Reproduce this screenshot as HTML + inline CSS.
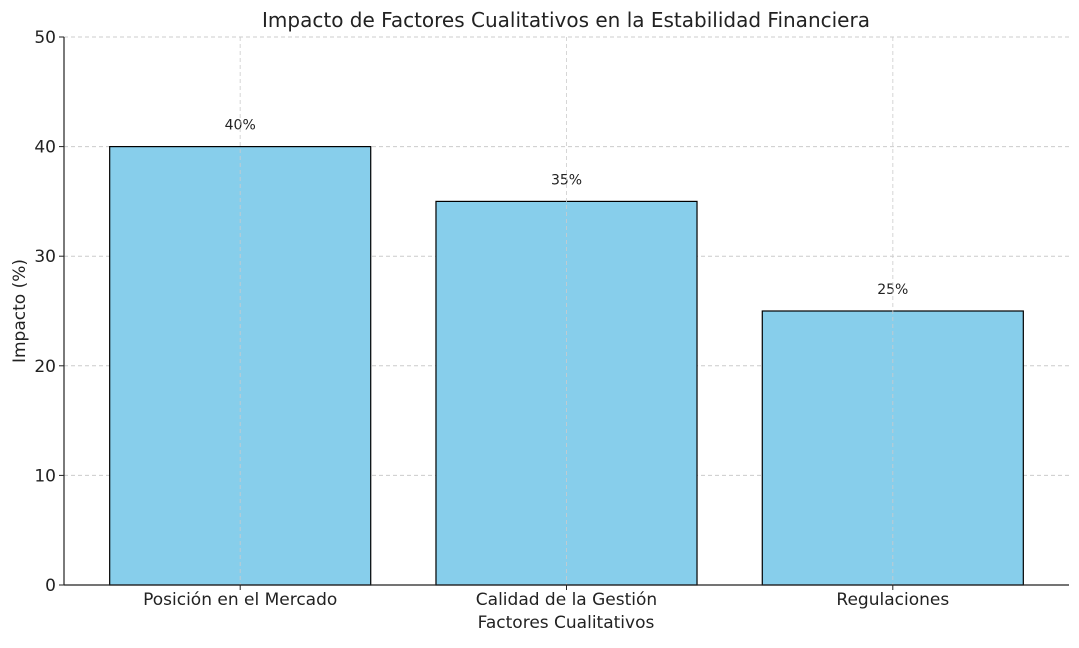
<!DOCTYPE html>
<html><head><meta charset="utf-8">
<style>
body{margin:0;background:#fff;font-family:"Liberation Sans","DejaVu Sans",sans-serif;}
svg text{font-family:"DejaVu Sans","Liberation Sans",sans-serif;fill:#222;}
</style></head>
<body>
<svg id="chart" width="1079" height="643" xmlns="http://www.w3.org/2000/svg">
<text x="566" y="27" text-anchor="middle" font-size="20">Impacto de Factores Cualitativos en la Estabilidad Financiera</text>
<g id="grid"></g>
<g id="bars"></g>
<g id="axes"></g>
<text x="566" y="628" text-anchor="middle" font-size="17">Factores Cualitativos</text>
<text transform="translate(25,311) rotate(-90)" text-anchor="middle" font-size="17">Impacto (%)</text>
</svg>
<script>
const categories = ["Posición en el Mercado", "Calidad de la Gestión", "Regulaciones"];
const values = [40, 35, 25];
const valueLabels = ["40%", "35%", "25%"];
const yTicks = [0, 10, 20, 30, 40, 50];

const NS = "http://www.w3.org/2000/svg";
const L = 64, R = 1069, T = 37, B = 585;
const yMin = 0, yMax = 50, xMin = -0.54, xMax = categories.length - 1 + 0.54;
const y = v => B - (v - yMin) / (yMax - yMin) * (B - T);
const x = i => L + (i - xMin) / (xMax - xMin) * (R - L);
const bw = 0.8 * (R - L) / (xMax - xMin);
function mk(tag, attrs, parent) {
  const e = document.createElementNS(NS, tag);
  for (const k in attrs) e.setAttribute(k, attrs[k]);
  parent.appendChild(e);
  return e;
}
const grid = document.getElementById("grid"), bars = document.getElementById("bars"), axes = document.getElementById("axes");

yTicks.forEach(t => {
  const g = mk("line", {x1: L, x2: R, y1: y(t), y2: y(t), stroke: "#ccc", "stroke-dasharray": "4,3", "stroke-width": 1}, grid);
  
  
  const tk = mk("line", {x1: L - 5, x2: L, y1: y(t), y2: y(t), stroke: "#222"}, axes);
  
  
  const lb = mk("text", {x: L - 8, y: y(t) + 6, "text-anchor": "end", "font-size": 17}, axes);
  lb.textContent = t;
  
  
});

categories.forEach((c, i) => {
  const cx = x(i);
  const r = mk("rect", {x: cx - bw / 2, y: y(values[i]), width: bw, height: y(0) - y(values[i]), fill: "#87ceeb", stroke: "#000", "stroke-width": 1.2}, bars);
  
  
  const vl = mk("text", {x: cx, y: y(values[i] + 2) + 5, "text-anchor": "middle", "font-size": 14}, bars);
  vl.textContent = valueLabels[i];
  
  
  const tk = mk("line", {x1: cx, x2: cx, y1: B, y2: B + 5, stroke: "#222"}, axes);
  
  
  const lb = mk("text", {x: cx, y: B + 20, "text-anchor": "middle", "font-size": 17}, axes);
  lb.textContent = c;
  
  
});
// vertical gridlines drawn over bars (matplotlib style)
categories.forEach((c, i) => {
  const g = mk("line", {x1: x(i), x2: x(i), y1: T, y2: B, stroke: "#ccc", "stroke-dasharray": "4,3", "stroke-width": 1, opacity: 0.8}, bars);
  
  
});
const la = mk("line", {x1: L, x2: L, y1: T, y2: B, stroke: "#222", "stroke-width": 1.2}, axes);


const ba = mk("line", {x1: L, x2: R, y1: B, y2: B, stroke: "#222", "stroke-width": 1.2}, axes);


</script>
</body></html>
